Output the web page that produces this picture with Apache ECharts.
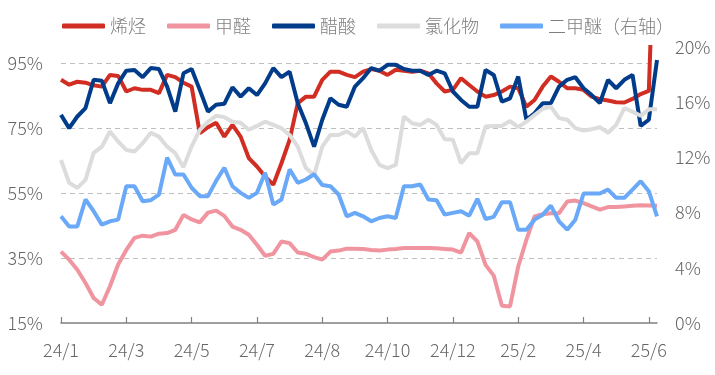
<!DOCTYPE html>
<html>
<head>
<meta charset="utf-8">
<script src="https://cdn.jsdelivr.net/npm/echarts@6/dist/echarts.min.js"></script>
<style>
html,body{margin:0;padding:0;background:#fff;}
#chart{width:715px;height:375px;}
</style>
</head>
<body>
<div id="chart"></div>
<script>
// Weekly categories (74 points); tick labels every 8th category
const weeks = Array.from({length: 74}, (_, i) => 'W' + (i + 1));
const tickLabels = ['24/1', '24/3', '24/5', '24/7', '24/8', '24/10', '24/12', '25/2', '25/4', '25/6'];
const seriesNames = ['烯烃', '甲醛', '醋酸', '氯化物', '二甲醚（右轴）'];

// 烯烃 (left axis, %)
const olefin = [89.9, 88.4, 89.3, 89.0, 88.2, 87.8, 91.4, 91.1, 86.3, 87.3,
  86.8, 86.8, 85.8, 91.4, 90.7, 89.0, 87.8, 73.5, 75.3, 76.7,
  72.4, 76.0, 72.4, 65.8, 63.2, 60.1, 57.6, 64.2, 71.4, 82.7,
  84.7, 84.7, 89.9, 92.4, 92.4, 91.4, 90.7, 92.4, 93.2, 92.7,
  91.4, 93.0, 92.7, 92.4, 92.7, 91.9, 88.8, 86.3, 86.8, 90.4,
  88.3, 86.3, 84.7, 85.2, 86.3, 87.8, 87.3, 81.6, 83.7, 87.8,
  90.9, 89.3, 87.3, 87.3, 86.8, 84.7, 83.9, 83.5, 83.0, 82.9,
  84.0, 85.5, 86.5, 160];
// 甲醛 (left axis, %)
const formaldehyde = [37.0, 34.5, 31.4, 27.3, 22.7, 20.6, 26.3, 33.0, 37.5, 41.2,
  41.9, 41.6, 42.5, 42.7, 43.7, 48.3, 46.9, 46.0, 49.0, 49.6,
  48.0, 44.7, 43.7, 42.2, 39.1, 35.7, 36.3, 40.1, 39.6, 36.7,
  36.3, 35.3, 34.5, 37.0, 37.3, 37.9, 37.9, 37.8, 37.5, 37.3,
  37.6, 37.8, 38.1, 38.1, 38.1, 38.1, 38.0, 37.8, 37.6, 36.7,
  42.7, 40.1, 32.9, 29.6, 20.3, 20.1, 32.4, 40.6, 47.8, 48.5,
  48.8, 48.8, 52.4, 52.7, 51.9, 50.9, 49.9, 50.7, 50.7, 50.9,
  51.1, 51.3, 51.2, 51.1];
// 醋酸 (left axis, %)
const aceticAcid = [79.1, 75.0, 78.6, 81.2, 89.9, 89.6, 82.7, 88.8, 92.7, 92.9,
  90.7, 93.5, 93.2, 87.8, 80.1, 91.9, 93.2, 86.8, 80.1, 82.2,
  82.5, 87.6, 84.7, 87.3, 85.2, 88.8, 93.5, 90.7, 92.4, 82.7,
  76.5, 69.3, 77.6, 84.2, 82.2, 81.6, 87.8, 90.4, 93.5, 92.7,
  94.5, 94.5, 93.2, 92.7, 92.7, 91.4, 92.7, 91.9, 86.3, 83.7,
  81.6, 81.6, 92.9, 91.4, 83.2, 84.2, 90.9, 77.6, 79.6, 82.7,
  82.7, 87.8, 89.9, 90.7, 87.3, 85.2, 82.7, 89.9, 87.3, 89.9,
  91.4, 75.7, 77.6, 96.0];
// 氯化物 (left axis, %)
const chloride = [65.2, 58.2, 56.6, 59.1, 67.4, 69.3, 74.0, 70.9, 68.3, 67.8,
  70.4, 73.6, 72.4, 69.3, 67.3, 63.0, 69.4, 74.5, 77.0, 78.8,
  78.4, 77.0, 76.7, 74.5, 75.7, 77.0, 76.0, 75.0, 72.9, 69.3,
  62.7, 60.6, 69.3, 72.9, 72.9, 74.0, 72.4, 75.0, 68.3, 63.7,
  62.7, 63.7, 78.6, 76.5, 76.0, 77.6, 76.0, 71.6, 71.4, 64.2,
  67.3, 67.3, 75.5, 75.7, 75.7, 77.2, 75.3, 77.0, 79.0, 81.0,
  81.6, 78.1, 77.6, 75.0, 74.3, 74.7, 75.3, 73.6, 76.0, 81.2,
  80.1, 78.8, 80.8, 80.8];
// 二甲醚 (right axis, %)
const dme = [7.73, 7.0, 7.0, 8.95, 8.1, 7.13, 7.37, 7.49, 9.91, 9.91,
  8.82, 8.9, 9.31, 11.98, 10.76, 10.76, 9.8, 9.19, 9.19, 10.3,
  11.25, 9.91, 9.43, 9.07, 9.43, 10.89, 8.58, 8.95, 11.13, 10.16,
  10.4, 10.78, 10.0, 9.91, 9.31, 7.73, 7.98, 7.73, 7.37, 7.61,
  7.73, 7.61, 9.91, 9.91, 10.04, 8.95, 8.9, 7.85, 7.98, 8.1,
  7.78, 9.0, 7.54, 7.69, 8.75, 8.75, 6.76, 6.76, 7.49, 7.85,
  8.51, 7.37, 6.76, 7.49, 9.38, 9.38, 9.38, 9.67, 9.07, 9.07,
  9.67, 10.28, 9.55, 7.73];

const colors = ['#D12D22', '#F0959F', '#003C8A', '#DCDCDC', '#6AA8F8'];
const font = '"Noto Sans CJK SC", "Noto Sans", sans-serif';

const chart = echarts.init(document.getElementById('chart'), null, {renderer: 'canvas'});

function lineSeries(name, data, color, yAxisIndex) {
  return {
    name: name,
    type: 'line',
    data: data,
    yAxisIndex: yAxisIndex,
    symbol: 'none',
    showSymbol: false,
    clip: true,
    smooth: false,
    lineStyle: {color: color, width: 4},
    itemStyle: {color: color},
    emphasis: {disabled: true}
  };
}

chart.setOption({
  animation: false,
  color: colors,
  textStyle: {fontFamily: font},
  legend: {
    left: 57,
    top: 12,
    itemWidth: 43,
    itemHeight: 5,
    itemGap: 21,
    icon: 'roundRect',
    data: seriesNames,
    textStyle: {color: '#7F7F7F', fontSize: 18, fontWeight: 300, fontFamily: font}
  },
  grid: {left: 61, right: 58, top: 47, bottom: 52, containLabel: false},
  xAxis: {
    type: 'category',
    data: weeks,
    boundaryGap: false,
    axisLine: {show: true, lineStyle: {color: '#808080', width: 1.5}},
    axisTick: {show: true, inside: true, length: 6, interval: 7, lineStyle: {color: '#808080', width: 1.2}},
    axisLabel: {
      interval: 7,
      margin: 18,
      color: '#666666',
      fontSize: 18,
      fontWeight: 300,
      fontFamily: font,
      formatter: function (v, idx) { return tickLabels[Math.round(idx / 8)] || ''; }
    },
    splitLine: {show: false}
  },
  yAxis: [
    {
      type: 'value',
      min: 15,
      max: 100,
      interval: 20,
      position: 'left',
      axisLine: {show: false},
      axisTick: {show: false},
      axisLabel: {
        color: '#666666', fontSize: 18, fontWeight: 300, fontFamily: font, margin: 18,
        showMaxLabel: false,
        formatter: function (v) { return v >= 100 ? '' : v + '%'; }
      },
      splitLine: {
        show: true, showMinLine: false, showMaxLine: false,
        lineStyle: {color: '#BFBFBF', type: [5, 4], width: 1}
      }
    },
    {
      type: 'value',
      min: 0,
      max: 20,
      interval: 4,
      position: 'right',
      axisLine: {show: false},
      axisTick: {show: false},
      axisLabel: {color: '#666666', fontSize: 18, fontWeight: 300, fontFamily: font, margin: 18, formatter: '{value}%'},
      splitLine: {show: false}
    }
  ],
  series: [
    lineSeries(seriesNames[0], olefin, colors[0], 0),
    lineSeries(seriesNames[1], formaldehyde, colors[1], 0),
    lineSeries(seriesNames[2], aceticAcid, colors[2], 0),
    lineSeries(seriesNames[3], chloride, colors[3], 0),
    lineSeries(seriesNames[4], dme, colors[4], 1)
  ]
});
</script>
</body>
</html>
